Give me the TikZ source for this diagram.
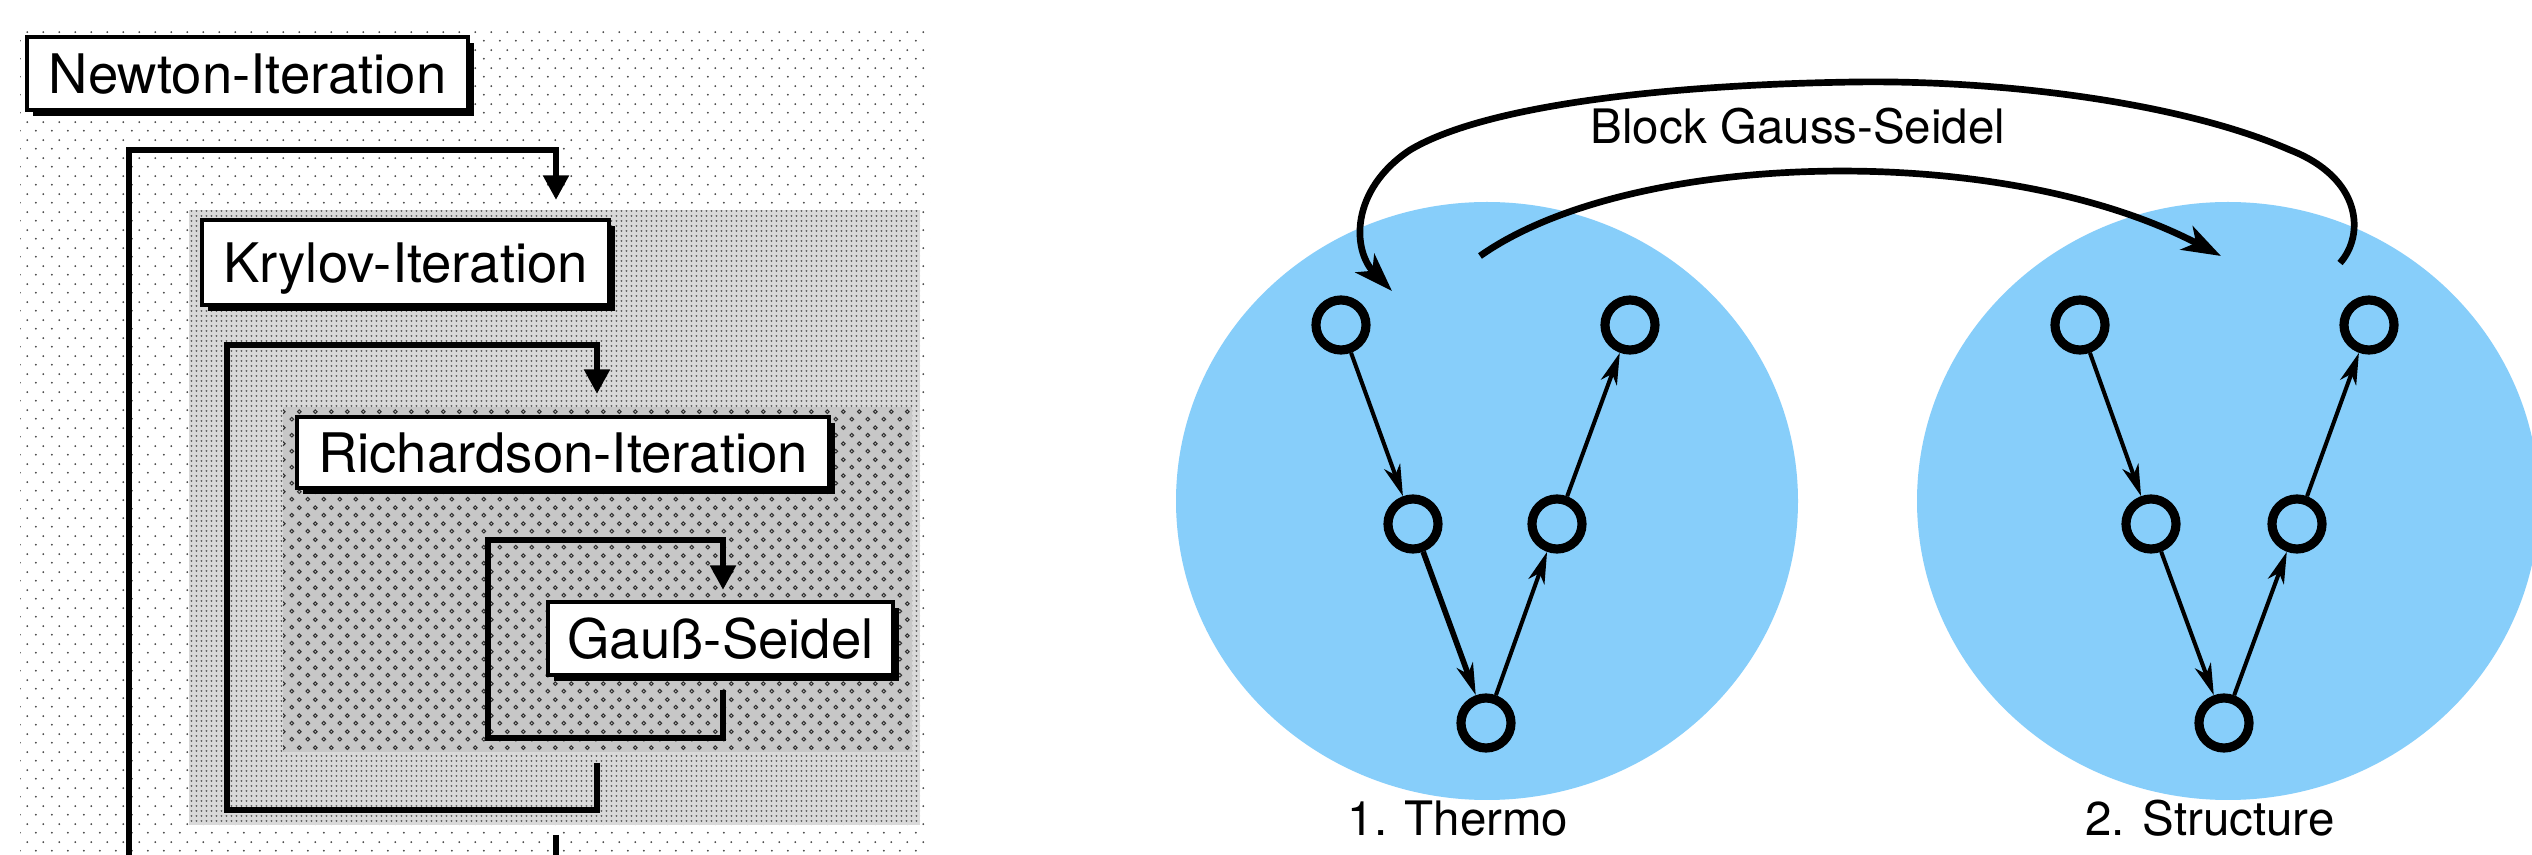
\documentclass[tikz,border=0pt]{standalone}
\usepackage{fontspec}
\setmainfont{TeX Gyre Heros}
\usetikzlibrary{arrows.meta,patterns,shadows}

\definecolor{thermoblue}{RGB}{135,206,250}

% halftone-like screens for the nested iteration levels
\pgfdeclarepatternformonly{sparsedots}{\pgfqpoint{0pt}{0pt}}{\pgfqpoint{4.55pt}{5.12pt}}{\pgfqpoint{4.55pt}{5.12pt}}{%
  \pgfpathcircle{\pgfqpoint{1.14pt}{1.28pt}}{0.3pt}%
  \pgfpathcircle{\pgfqpoint{3.41pt}{3.84pt}}{0.3pt}%
  \pgfusepath{fill}}
\pgfdeclarepatternformonly{finedots}{\pgfqpoint{0pt}{0pt}}{\pgfqpoint{1.42pt}{1.28pt}}{\pgfqpoint{1.42pt}{1.28pt}}{%
  \pgfpathcircle{\pgfqpoint{0.71pt}{0.64pt}}{0.29pt}%
  \pgfusepath{fill}}
\pgfdeclarepatternformonly{rings}{\pgfqpoint{0pt}{0pt}}{\pgfqpoint{4.55pt}{4.55pt}}{\pgfqpoint{4.55pt}{4.55pt}}{%
  \pgfsetlinewidth{0.3pt}%
  \pgfpathcircle{\pgfqpoint{1.14pt}{1.14pt}}{0.55pt}%
  \pgfpathcircle{\pgfqpoint{3.41pt}{3.41pt}}{0.55pt}%
  \pgfusepath{stroke}}

\begin{document}
\begin{tikzpicture}[x=0.01cm, y=-0.01cm,
  loopline/.style={line width=1.9pt, line join=miter},
  looparrow/.style={loopline, -{Triangle[length=7pt,width=7pt]}},
  itbox/.style={draw, line width=1pt, fill=white, inner sep=0pt,
    font=\fontsize{15.5}{18}\selectfont, text height=11.2pt, text depth=0pt,
    drop shadow={shadow xshift=1.7pt, shadow yshift=-1.7pt, fill=black, opacity=1}},
  vnode/.style={circle, draw, line width=2.6pt, minimum size=0.5cm, inner sep=0pt},
  vedge/.style={line width=1.15pt, -{Stealth[length=9pt,width=4.8pt,inset=2.6pt]}},
  bigarc/.style={line width=1.9pt, -{Stealth[length=11pt,width=7.5pt,inset=3pt]}},
  caption/.style={font=\fontsize{13.5}{16}\selectfont, anchor=base, inner sep=0pt}]

\useasboundingbox (0,0) rectangle (2532,855);
\clip (0,0) rectangle (2532,855);
\fill[white] (0,0) rectangle (2532,855);

% ---------- nested iterations ----------
\fill[pattern=sparsedots, pattern color=black!75] (20,25) rectangle (930,870);
\fill[black!15] (189,210) rectangle (920,825);
\fill[pattern=finedots, pattern color=black!70] (189,210) rectangle (920,825);
\fill[black!22] (283,407) rectangle (912,752);
\fill[pattern=rings, pattern color=black!80] (283,407) rectangle (912,752);

\node[itbox, minimum width=4.41cm, minimum height=0.73cm] (newton) at (247.5,73.5) {Newton-Iteration};
\node[itbox, minimum width=4.07cm, minimum height=0.85cm] (krylov) at (405.5,262.5) {Krylov-Iteration};
\node[itbox, minimum width=5.32cm, minimum height=0.71cm] (rich) at (563,452.5) {Richardson-Iteration};
\node[itbox, minimum width=3.45cm, minimum height=0.73cm] (gs) at (720.5,638.5) {Gauß-Seidel};

\coordinate (kin) at (556,200);
\coordinate (kout) at (556,835);
\coordinate (rin) at (597,394);
\coordinate (rout) at (597,763);
\coordinate (gin) at (723,590);
\coordinate (gout) at (723,690);

\draw[looparrow] (kout) |- (129,880) -- (129,150) -| (kin);
\draw[looparrow] (rout) |- (227,810) -- (227,345) -| (rin);
\draw[looparrow] (gout) |- (488,738) -- (488,540) -| (gin);

% ---------- coupled V-cycles ----------
\fill[thermoblue] (1487,501) ellipse [x radius=311, y radius=299];
\fill[thermoblue] (2228,501) ellipse [x radius=311, y radius=299];

\node[vnode] (t1) at (1341,325) {};
\node[vnode] (t2) at (1630,325) {};
\node[vnode] (t3) at (1413,524) {};
\node[vnode] (t4) at (1557,524) {};
\node[vnode] (t5) at (1486,723) {};

\node[vnode] (s1) at (2080,325) {};
\node[vnode] (s2) at (2369,325) {};
\node[vnode] (s3) at (2151,524) {};
\node[vnode] (s4) at (2297,524) {};
\node[vnode] (s5) at (2224,723) {};

\draw[vedge] (t1) -- (t3);
\draw[vedge, line width=1.6pt] (t3) -- (t5);
\draw[vedge] (t5) -- (t4);
\draw[vedge] (t4) -- (t2);

\draw[vedge] (s1) -- (s3);
\draw[vedge] (s3) -- (s5);
\draw[vedge] (s5) -- (s4);
\draw[vedge] (s4) -- (s2);

\coordinate (la) at (1480,256);
\coordinate (lb) at (2221,256);
\coordinate (ua) at (2340,263);
\coordinate (ub) at (1392,291);

\draw[bigarc] (la) .. controls (1630,150) and (2000,140) .. (lb);
\draw[bigarc] (ua) .. controls (2365,235) and (2362,178) .. (2290,150)
  .. controls (2180,102) and (2000,80) .. (1855,82)
  .. controls (1650,85) and (1480,108) .. (1410,150)
  .. controls (1350,190) and (1352,250) .. (ub);

\node[caption] (bgs) at (1798,144) {Block Gauss-Seidel};
\node[caption] (thermo) at (1458,836) {1. Thermo};
\node[caption] (struct) at (2210,836) {2. Structure};
\end{tikzpicture}
\end{document}
